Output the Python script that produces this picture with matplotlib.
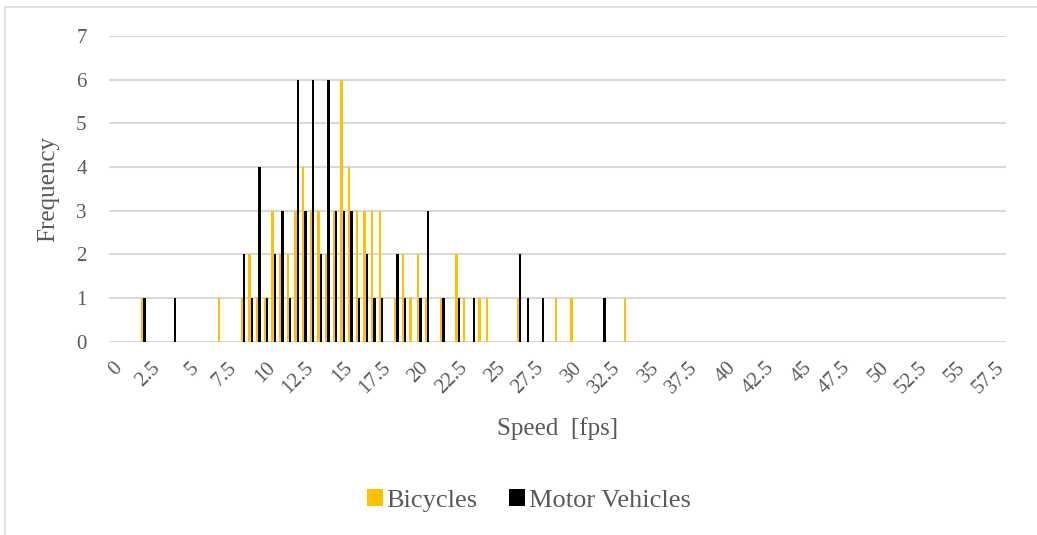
import numpy as np
import matplotlib
matplotlib.use('Agg')
import matplotlib.pyplot as plt
from matplotlib.patches import Rectangle

# speed bins are 0.5 fps wide, labelled every 2.5 fps
bin_width = 0.5
max_speed = 58.0
tick_labels = ['0', '2.5', '5', '7.5', '10', '12.5', '15', '17.5', '20',
               '22.5', '25', '27.5', '30', '32.5', '35', '37.5', '40',
               '42.5', '45', '47.5', '50', '52.5', '55', '57.5']

bike_speed = [2.0, 7.0, 8.5, 9.0, 9.5, 10.0, 10.5, 11.0, 11.5, 12.0, 12.5,
              13.0, 13.5, 14.0, 14.5, 15.0, 15.5, 16.0, 16.5, 17.0, 17.5,
              18.5, 19.0, 19.5, 20.0, 20.5, 21.5, 22.5, 23.0, 24.0, 24.5,
              26.5, 29.0, 30.0, 33.5]
bike_count = [1, 1, 1, 2, 1, 1, 3, 2, 2, 3, 4,
              3, 3, 2, 3, 6, 4, 3, 3, 3, 3,
              1, 2, 1, 2, 1, 1, 2, 1, 1, 1,
              1, 1, 1, 1]

car_speed = [2.0, 4.0, 8.5, 9.0, 9.5, 10.0, 10.5, 11.0, 11.5, 12.0, 12.5,
             13.0, 13.5, 14.0, 14.5, 15.0, 15.5, 16.0, 16.5, 17.0, 17.5,
             18.5, 19.0, 20.0, 20.5, 21.5, 22.5, 23.5, 26.5, 27.0, 28.0,
             32.0]
car_count = [1, 1, 2, 1, 4, 1, 2, 3, 1, 6, 3,
             6, 2, 6, 3, 3, 3, 1, 2, 1, 1,
             2, 1, 1, 3, 1, 1, 1, 2, 1, 1,
             1]

BIKE_COLOR = '#FFC000'
CAR_COLOR = '#000000'
TEXT_COLOR = '#595959'
GRID_COLOR = '#D9D9D9'

plt.rcParams['font.family'] = ['Liberation Serif', 'DejaVu Serif']

fig = plt.figure(figsize=(10.37, 5.35), dpi=100)
ax = fig.add_axes([0.105, 0.3613, 0.865, 0.5714])

bw = bin_width * 0.29
ax.bar(np.array(bike_speed) - bw / 2, bike_count, width=bw,
       color=BIKE_COLOR, label='Bicycles', zorder=3, linewidth=0)
ax.bar(np.array(car_speed) + bw / 2, car_count, width=bw,
       color=CAR_COLOR, label='Motor Vehicles', zorder=3, linewidth=0)

ax.set_xlim(-bin_width / 2, max_speed + bin_width / 2)
ax.set_ylim(0, 7)
ax.set_yticks(range(8))
ax.set_xticks(np.arange(len(tick_labels)) * 2.5)
ax.set_xticklabels(tick_labels, rotation=45, ha='right',
                   rotation_mode='anchor')
ax.tick_params(axis='both', length=0, labelsize=15, labelcolor=TEXT_COLOR)
ax.tick_params(axis='x', pad=12)
ax.tick_params(axis='y', pad=16)

ax.grid(axis='y', color=GRID_COLOR, linewidth=1.5, zorder=0)
for side in ax.spines.values():
    side.set_visible(False)

ax.set_xlabel('Speed  [fps]', fontsize=18, color=TEXT_COLOR, labelpad=14)
ax.set_ylabel('Frequency', fontsize=18, color=TEXT_COLOR, labelpad=12)

leg = fig.legend(loc='center', bbox_to_anchor=(0.51, 0.065), ncol=2,
                 frameon=False, fontsize=19, handlelength=0.6,
                 handleheight=0.6, handletextpad=0.15, columnspacing=1.2)
for t in leg.get_texts():
    t.set_color(TEXT_COLOR)

# chart border
fig.patches.append(Rectangle((5 / 1037, -0.1), 1.1, 1.1 - 7 / 535,
                             transform=fig.transFigure, fill=False,
                             edgecolor=GRID_COLOR, linewidth=1.2))

fig.savefig('out.png', dpi=100, facecolor='white')
